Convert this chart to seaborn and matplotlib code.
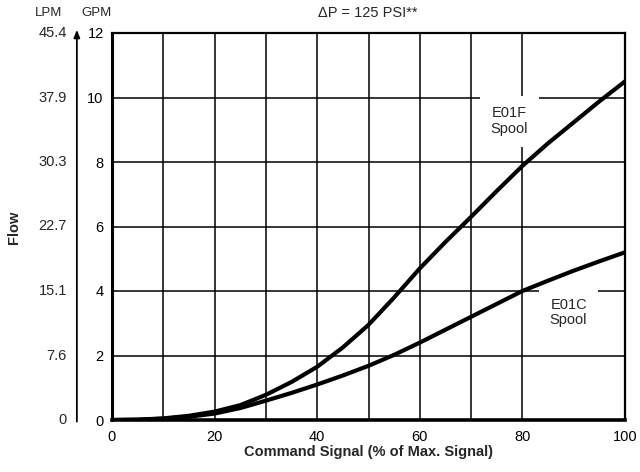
import matplotlib
matplotlib.use("Agg")
import matplotlib.pyplot as plt
import seaborn as sns
import pandas as pd

signal = [0, 5, 10, 15, 20, 25, 30, 35, 40, 45, 50, 55, 60, 65, 70, 75, 80, 85, 90, 95, 100]
e01f = [0, 0.01, 0.05, 0.13, 0.26, 0.46, 0.78, 1.18, 1.65, 2.25, 2.95, 3.8, 4.7, 5.52, 6.3, 7.1, 7.88, 8.58, 9.23, 9.88, 10.5]
e01c = [0, 0.01, 0.04, 0.10, 0.2, 0.37, 0.6, 0.84, 1.1, 1.38, 1.68, 2.02, 2.4, 2.8, 3.2, 3.6, 4.0, 4.32, 4.63, 4.92, 5.2]
gpm_ticks = [0, 2, 4, 6, 8, 10, 12]
lpm_labels = ["0", "7.6", "15.1", "22.7", "30.3", "37.9", "45.4"]
x_ticks = [0, 20, 40, 60, 80, 100]
x_grid = [10, 20, 30, 40, 50, 60, 70, 80]

df = pd.DataFrame({
    "signal": signal * 2,
    "flow": e01f + e01c,
    "spool": ["E01F"] * len(signal) + ["E01C"] * len(signal),
})

sns.set_style("white")
plt.rcParams["font.family"] = ["Liberation Sans", "DejaVu Sans"]

fig = plt.figure(figsize=(6.4, 4.72), dpi=100)
ax = fig.add_axes([112 / 640, 1 - 420 / 472, 513 / 640, 387 / 472])

for v in x_grid:
    ax.axvline(v, color="black", lw=1.1, zorder=1)
for h in gpm_ticks[1:-1]:
    ax.axhline(h, color="black", lw=1.1, zorder=1)

sns.lineplot(data=df, x="signal", y="flow", units="spool", estimator=None,
             color="black", lw=3, ax=ax, zorder=4, legend=False)
for l in ax.lines[-2:]:
    l.set_solid_capstyle("round")
    l.set_solid_joinstyle("round")

ax.set_xlim(0, 100)
ax.set_ylim(0, 12)
ax.set_xticks(x_ticks)
ax.set_yticks(gpm_ticks)
ax.tick_params(axis="both", length=0, labelsize=10.5, colors="black")
ax.tick_params(axis="x", pad=7)
ax.tick_params(axis="y", pad=6)
for s in ax.spines.values():
    s.set_color("black")
    s.set_linewidth(1.6)
    s.set_zorder(5)
ax.spines["bottom"].set_linewidth(2.6)
ax.spines["left"].set_linewidth(2.2)

ax.set_xlabel("Command Signal (% of Max. Signal)", fontsize=10.5, fontweight="bold", labelpad=1)
ax.set_ylabel("")

# LPM secondary scale
ytr = ax.get_yaxis_transform()
for g, lab in zip(gpm_ticks, lpm_labels):
    ax.text(-0.088, g, lab, transform=ytr, ha="right", va="center", fontsize=10.5, clip_on=False)
ax.annotate("", xy=(-0.0685, 12.1), xytext=(-0.0685, -0.05), xycoords=ytr, textcoords=ytr,
            arrowprops=dict(arrowstyle="-|>,head_length=0.45,head_width=0.18", color="black", lw=1.3,
                            shrinkA=0, shrinkB=0))

fig.text(49 / 640, 1 - 13 / 472, "LPM", ha="center", va="center", fontsize=9.5)
fig.text(97 / 640, 1 - 13 / 472, "GPM", ha="center", va="center", fontsize=9.5)
fig.text(368 / 640, 1 - 13 / 472, "\u0394P = 125 PSI**", ha="center", va="center", fontsize=10.5)
fig.text(14 / 640, 1 - 227 / 472, "Flow", ha="center", va="center", rotation=90,
         fontsize=10.5, fontweight="bold")

box = dict(boxstyle="square,pad=0.75", facecolor="white", edgecolor="none")
ax.text(77.5, 9.27, "E01F\nSpool", ha="center", va="center", fontsize=10.5,
        linespacing=1.1, bbox=box, zorder=3)
ax.text(89, 3.32, "E01C\nSpool", ha="center", va="center", fontsize=10.5,
        linespacing=1.1, bbox=box, zorder=3)

fig.savefig("out.png", dpi=100)
